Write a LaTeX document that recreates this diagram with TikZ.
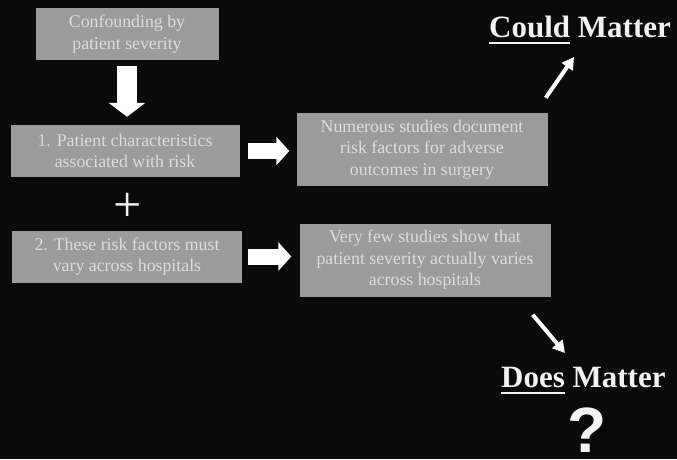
\documentclass[tikz,border=0pt]{standalone}
\usepackage{fontspec}
\setmainfont{Liberation Serif}
\newfontfamily\qfont{Liberation Sans}
\usetikzlibrary{arrows.meta}
\definecolor{BgBlack}{RGB}{10,10,10}
\definecolor{BoxGray}{RGB}{155,155,155}
\definecolor{BoxText}{RGB}{222,222,222}
\definecolor{HeadWhite}{RGB}{242,242,242}
\newcommand{\ulword}[1]{\setbox0\hbox{#1}\rlap{\rule[-7pt]{\wd0}{2pt}}\box0\relax}

\begin{document}
\begin{tikzpicture}[x=1pt,y=-1pt,
    graybox/.style={fill=BoxGray,text=BoxText,align=center,inner sep=0pt,
        font=\fontsize{17.8}{21.5}\selectfont},
    leftbox/.style={graybox,minimum width=229pt,minimum height=52pt},
    rightbox/.style={graybox,minimum width=251pt,minimum height=73pt},
    fatdown/.style={white,line width=20pt,-{Triangle[width=36pt,length=14pt]}},
    fatright/.style={white,line width=16pt,-{Triangle[width=28pt,length=13pt]}},
    slimarrow/.style={white,line width=4pt,-{Triangle[width=13pt,length=12pt]}},
    verdict/.style={text=HeadWhite,inner sep=0pt,anchor=base west,
        font=\fontsize{31}{31}\selectfont\bfseries}]
            \fill[BgBlack] (0,0) rectangle (677,459);
            \useasboundingbox (0,0) rectangle (677,459);
            % left column
            \node[leftbox,minimum width=183pt] (conf) at (127,34) {Confounding by\\patient severity};
            \node[leftbox] (chars) at (125,151) {1. Patient characteristics\\associated with risk};
            \node[text=HeadWhite,inner sep=0pt,font=\fontsize{50}{50}\selectfont] (plus) at (128,207) {+};
            \node[leftbox,minimum width=230pt] (vary) at (127,256.5) {2. These risk factors must\\vary across hospitals};
            % right column
            \node[rightbox] (numer) at (422,149.5) {Numerous studies document\\risk factors for adverse\\outcomes in surgery};
            \node[rightbox] (few) at (425,260) {Very few studies show that\\patient severity actually varies\\across hospitals};
            % verdicts
            \node[verdict] (could) at (489,37) {\ulword{Could} Matter};
            \node[verdict] (does) at (501,387) {\ulword{Does} Matter};
            \node[text=HeadWhite,inner sep=0pt,anchor=base,font=\qfont\fontsize{64}{64}\selectfont\bfseries] (qmark) at (587,452) {?};
            \coordinate (couldtip) at (574,57);
            \coordinate (doestip) at (565,353);
            % arrows
            \draw[fatdown,shorten <=6pt,shorten >=8pt] (conf.south) -- (conf.south |- chars.north);
            \draw[fatright,shorten <=8pt,shorten >=7pt] (chars.east) -- (chars.east -| numer.west);
            \draw[fatright,shorten <=6pt,shorten >=8pt] (vary.east) -- (vary.east -| few.west);
            \draw[slimarrow] ([xshift=-2pt,yshift=15pt]numer.north east) -- (couldtip);
            \draw[slimarrow] ([xshift=-18pt,yshift=-18pt]few.south east) -- (doestip);
        \end{tikzpicture}
\end{document}
